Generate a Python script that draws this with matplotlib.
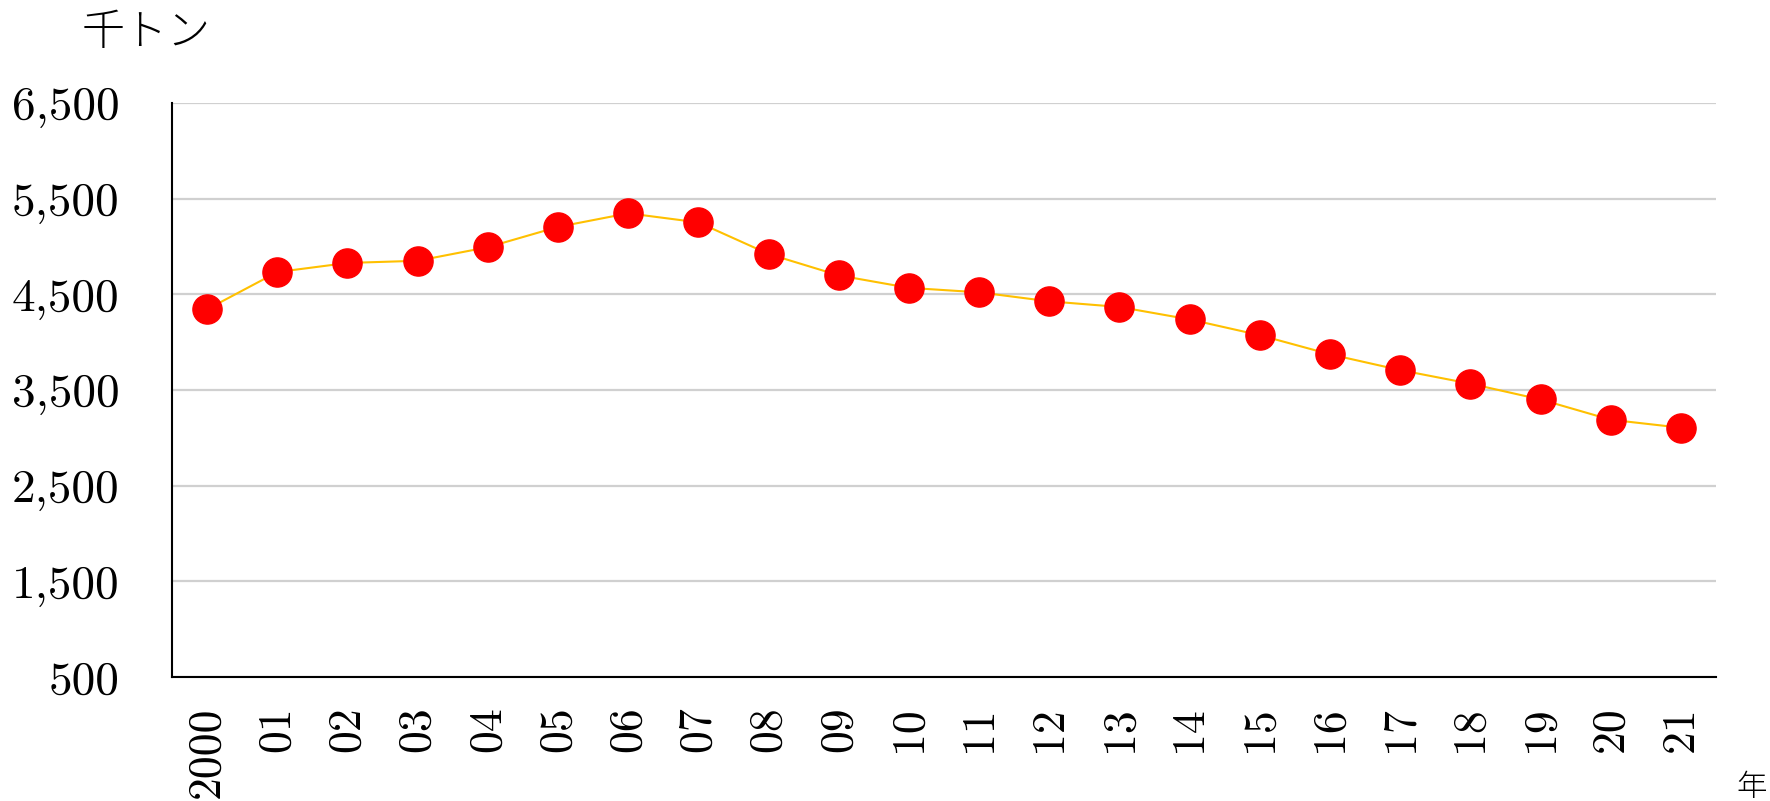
import matplotlib
matplotlib.use('Agg')
import matplotlib.pyplot as plt

# data (thousand tons per year)
years = ['2000', '01', '02', '03', '04', '05', '06', '07', '08', '09', '10',
         '11', '12', '13', '14', '15', '16', '17', '18', '19', '20', '21']
values = [4344, 4733, 4828, 4851, 4993, 5205, 5347, 5252, 4922, 4698, 4568,
          4521, 4427, 4368, 4238, 4073, 3873, 3708, 3566, 3401, 3189, 3106]
y_ticks = [500, 1500, 2500, 3500, 4500, 5500, 6500]
y_tick_labels = [f'{v:,}' for v in y_ticks]

fig = plt.figure(figsize=(17.7, 8.01), dpi=100)
ax = fig.add_axes([0.0972, 0.1548, 0.8723, 0.7166])

x = list(range(len(years)))
ax.plot(x, values, color='#FFC000', linewidth=1.5, zorder=2)
ax.plot(x, values, linestyle='none', marker='o', markersize=21,
        markerfacecolor='#FF0000', markeredgecolor='#FF0000', zorder=3)

ax.set_xlim(-0.5, len(years) - 0.5)
ax.set_ylim(500, 6500)
ax.set_yticks(y_ticks)
ax.set_yticklabels(y_tick_labels, fontfamily='cmr10', fontsize=34)
ax.set_xticks(x)
ax.set_xticklabels(years, fontfamily='cmr10', fontsize=33, rotation=90)
ax.tick_params(axis='y', length=0, pad=38)
ax.tick_params(axis='x', length=0, pad=21)

ax.grid(axis='y', color='#d0d0d0', linewidth=1.6, zorder=0)
ax.set_axisbelow(True)
for side in ['top', 'right']:
    ax.spines[side].set_visible(False)
for side in ['left', 'bottom']:
    ax.spines[side].set_color('black')
    ax.spines[side].set_linewidth(1.5)
    ax.spines[side].set_zorder(4)

fig.text(146 / 1770, 1 - 32 / 801, '千トン', fontfamily='Noto Sans CJK JP',
         fontweight='light', fontsize=31, ha='center', va='center')
fig.text(1752 / 1770, 1 - 787 / 801, '年', fontfamily='Noto Sans CJK JP',
         fontweight='light', fontsize=22, ha='center', va='center')

fig.savefig('out.png', dpi=100)
plt.close(fig)
